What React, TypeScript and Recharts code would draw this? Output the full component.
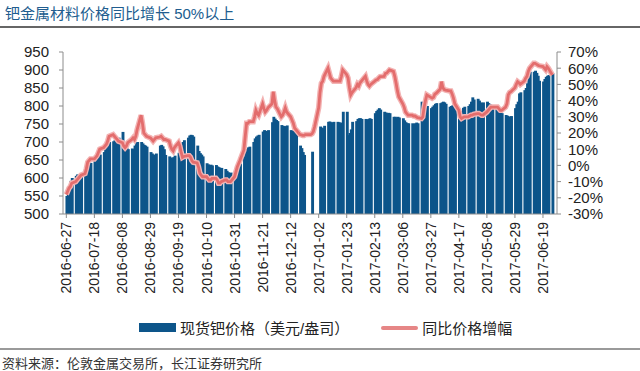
import { ComposedChart, Bar, Line, XAxis, YAxis } from 'recharts'

// weekly blocks, Monday..Friday, first week starts 2016-06-27
const priceWeeks: (number | null)[][] = [
  [550, 565, 580, 592, 600],
  [606, 610, 607, 605, 609],
  [612, 618, 630, 640, 642],
  [648, 652, 658, 662, 665],
  [672, 680, 688, 696, 700],
  [702, 705, 708, 710, 712],
  [728, 700, 690, 683, 680],
  [682, 680, 690, 698, 700],
  [700, 696, 692, 690, 687],
  [672, 668, 665, 664, 668],
  [690, 692, 688, 680, 664],
  [660, 657, 655, 658, 662],
  [670, 680, 692, 700, 705],
  [712, 718, 720, 719, 715],
  [690, 675, 669, 665, 660],
  [641, 638, 636, 637, 635],
  [636, 632, 630, 628, 628],
  [625, 620, 616, 614, 615],
  [618, 622, 625, 628, 640],
  [660, 675, 680, 685, 687],
  [700, 710, 715, 718, 720],
  [729, 733, 731, 730, 733],
  [755, 770, 765, 761, 758],
  [747, 745, 744, 743, 746],
  [733, 731, 730, 729, 725],
  [690, 683, 672, 664, null],
  [null, null, 673, null, null],
  [null, 743, 740, 738, 745],
  [756, 757, 755, 754, 756],
  [756, 755, 752, 754, 784],
  [784, 719, 725, 735, 756],
  [758, 764, 766, 766, 764],
  [764, 762, 764, 766, 764],
  [780, 786, 790, 794, 790],
  [784, 782, 780, 781, 780],
  [770, 770, 768, 770, 768],
  [766, 760, 755, 752, 752],
  [752, 750, 752, 754, 752],
  [812, 808, 800, 798, 800],
  [794, 798, 802, 806, 808],
  [808, 810, 812, 810, 806],
  [798, 800, 802, 803, 800],
  [766, 775, 785, 795, 798],
  [800, 805, 812, 824, 818],
  [820, 815, 810, 808, 810],
  [812, 808, 805, 803, 800],
  [798, 792, 788, 784, 780],
  [775, 773, 770, 771, 772],
  [794, 805, 812, 835, 838],
  [844, 850, 863, 880, 895],
  [895, 898, 892, 884, 870],
  [868, 875, 881, 884, 886],
  [891],
]

const yoyWeeks: number[][] = [
  [-18, -16, -14, -13, -11],
  [-10, -9, -8, -7, -6],
  [-5, -2, 2, 3, 4],
  [4, 5, 6, 8, 10],
  [11, 12, 13, 15, 18],
  [19, 18, 17, 16, 15],
  [14, 12, 11, 12, 14],
  [16, 17, 16, 18, 22],
  [31, 26, 20, 19, 18],
  [17, 16, 15, 16, 17],
  [17.5, 18, 17, 16, 16],
  [15, 12, 10, 9, 11],
  [14, 12, 8, 5, 5.5],
  [6, 6, 5, 3, 2],
  [1.5, -1, -4.8, -6, -7],
  [-7, -8, -9, -9, -8],
  [-8, -9, -11, -11, -10],
  [-9, -9, -10, -10, -10],
  [-7, -4, -1, 1, 3],
  [9.5, 18, 26, 26, 27],
  [27, 30, 34, 32, 31],
  [38, 35, 33, 34, 35.5],
  [38, 45.5, 40, 36, 35],
  [30, 31, 33, 35.5, 33],
  [30, 28, 26, 23, 22],
  [19, 18.8, 18.5, 18.5, 19],
  [19, 19, 19.5, 21, 24],
  [35.5, 45, 50.7, 52, 55],
  [60, 57, 54, 53, 52],
  [52, 52, 52, 55, 59],
  [56, 54, 48, 43.5, 45],
  [48, 50, 49, 51, 52],
  [55, 52, 50, 49, 50],
  [52, 52.7, 53, 54, 54.8],
  [55, 56.8, 57, 58, 58.9],
  [58, 55, 50.7, 46, 42.4],
  [38, 36, 33, 32, 31],
  [31, 30.5, 30.5, 30, 29.5],
  [29, 30, 36, 40, 43.5],
  [42, 41.5, 42, 44, 44.5],
  [47, 51.7, 48, 46.8, 46.5],
  [46, 46, 44, 41.4, 38],
  [34, 30, 29, 29.5, 30],
  [30, 30.5, 31, 31, 31.5],
  [32, 32, 31.5, 31, 31],
  [33, 34, 35, 36, 36],
  [36, 36, 35, 34, 34],
  [36, 38, 43.5, 45, 45.5],
  [48, 50, 51.7, 51, 50],
  [52, 53.8, 55, 58, 60],
  [63, 63, 62.5, 62, 61.5],
  [61, 60, 59, 61, 60],
  [55.8],
]

const dateTicks = [
  '2016-06-27', '2016-07-18', '2016-08-08', '2016-08-29', '2016-09-19', '2016-10-10',
  '2016-10-31', '2016-11-21', '2016-12-12', '2017-01-02', '2017-01-23', '2017-02-13',
  '2017-03-06', '2017-03-27', '2017-04-17', '2017-05-08', '2017-05-29', '2017-06-19',
]
const priceTicks = [500, 550, 600, 650, 700, 750, 800, 850, 900, 950]
const yoyTicks = [-30, -20, -10, 0, 10, 20, 30, 40, 50, 60, 70]

const FONT = '"Liberation Sans", Arial, "Noto Sans CJK SC", sans-serif'
const BAR_COLOR = '#0d558a'
const LINE_COLOR = '#e36d6d'

// calendar-day axis like the Excel date axis: weekends stay empty
const DAY = 86400000
const day0 = Date.UTC(2016, 5, 27)
const data: { date: string; price: number | null; yoy: number | null }[] = []
for (let d = -2; d < 368; d++) {
  const wk = Math.floor(d / 7)
  const dow = ((d % 7) + 7) % 7
  const p = d >= 0 && dow < 5 ? priceWeeks[wk]?.[dow] : undefined
  const g = d >= 0 && dow < 5 ? yoyWeeks[wk]?.[dow] : undefined
  data.push({
    date: new Date(day0 + d * DAY).toISOString().slice(0, 10),
    price: p ?? null,
    yoy: g ?? null,
  })
}

const DateTick = ({ x, y, payload }: { x?: number; y?: number; payload?: { value: string } }) => (
  <text
    x={x}
    y={y}
    transform={`rotate(-90 ${x} ${y})`}
    dy={5}
    textAnchor="end"
    fontSize={14}
    fill="#222"
    fontFamily={FONT}
  >
    {payload?.value}
  </text>
)

// day bars slightly wider than one day so a week reads as one solid block
const DayBar = (props: { x?: number; y?: number; height?: number }) => {
  const { x, y, height } = props
  if (x == null || y == null || !height) return null
  return <rect x={x - 0.2} y={y} width={2.9} height={height} fill={BAR_COLOR} />
}

export default function App() {
  return (
    <div style={{ position: 'absolute', left: 0, top: 0, width: 640, height: 371, background: '#fff', fontFamily: FONT }}>
      <div style={{ position: 'absolute', left: 5, top: 2, fontSize: 15, color: '#215d8f', whiteSpace: 'nowrap' }}>
        钯金属材料价格同比增长 50%以上
      </div>
      <div style={{ position: 'absolute', left: 0, top: 26, width: 640, height: 1.5, background: '#666' }} />

      <div style={{ position: 'absolute', left: 0, top: 0 }}>
        <ComposedChart
          width={640}
          height={305}
          data={data}
          margin={{ top: 52, right: 13, left: 13, bottom: 0 }}
          barCategoryGap={0}
        >
          <XAxis
            dataKey="date"
            ticks={dateTicks}
            interval={0}
            height={91}
            tick={<DateTick />}
            tickSize={4}
            tickMargin={4}
            stroke="#8c8c8c"
          />
          <YAxis
            yAxisId="left"
            domain={[500, 950]}
            ticks={priceTicks}
            interval={0}
            width={50}
            tickSize={4}
            tickMargin={10}
            stroke="#8c8c8c"
            tick={{ fontSize: 15, fill: '#222', fontFamily: FONT }}
          />
          <YAxis
            yAxisId="right"
            orientation="right"
            domain={[-30, 70]}
            ticks={yoyTicks}
            interval={0}
            width={70}
            tickSize={4}
            tickMargin={7}
            stroke="#8c8c8c"
            tickFormatter={(v) => `${v}%`}
            tick={{ fontSize: 15, fill: '#222', fontFamily: FONT, textAnchor: 'start' }}
          />
          <Bar yAxisId="left" dataKey="price" fill={BAR_COLOR} shape={<DayBar />} isAnimationActive={false} />
          <Line
            yAxisId="right"
            dataKey="yoy"
            stroke="#f3b3b3"
            strokeWidth={5.5}
            dot={false}
            connectNulls
            legendType="none"
            isAnimationActive={false}
          />
          <Line
            yAxisId="right"
            dataKey="yoy"
            stroke={LINE_COLOR}
            strokeWidth={2.8}
            dot={false}
            connectNulls
            isAnimationActive={false}
          />
        </ComposedChart>
      </div>

      <div style={{ position: 'absolute', left: 139, top: 317, fontSize: 15, color: '#222', display: 'flex', alignItems: 'center', whiteSpace: 'nowrap' }}>
        <span style={{ display: 'inline-block', width: 37, height: 9, background: BAR_COLOR, marginRight: 4 }} />
        <span>现货钯价格（美元/盎司）</span>
        <span style={{ display: 'inline-block', width: 37, height: 4, background: '#e68686', marginLeft: 32, marginRight: 4, borderRadius: 2 }} />
        <span>同比价格增幅</span>
      </div>

      <div style={{ position: 'absolute', left: 0, top: 348, width: 640, height: 1.5, background: '#9a9a9a' }} />
      <div style={{ position: 'absolute', left: 2, top: 353, fontSize: 13, color: '#333', whiteSpace: 'nowrap' }}>
        资料来源：伦敦金属交易所，长江证券研究所
      </div>
    </div>
  )
}
